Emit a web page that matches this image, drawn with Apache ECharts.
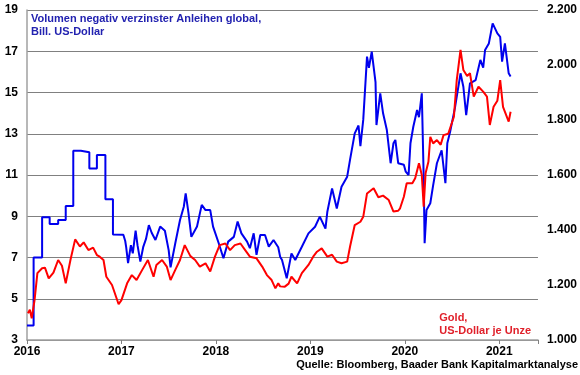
<!DOCTYPE html>
<html>
<head>
<meta charset="utf-8">
<script src="https://cdn.jsdelivr.net/npm/echarts@6/dist/echarts.min.js"></script>
<style>
	html, body { margin: 0; padding: 0; background: #fff; }
	#chart { width: 580px; height: 375px; }
</style>
</head>
<body>
<div id="chart"></div>
<script>
/*
 * Negativ verzinste Anleihen vs. Gold
 */
var yearTicks = [2016, 2017, 2018, 2019, 2020, 2021];

// Volumen negativ verzinster Anleihen, Bill. US-Dollar  [Jahr, Wert]
var bondVolume = [
	[2016.00, 3.7], [2016.07, 3.7], [2016.07, 7.0], [2016.16, 7.0], [2016.16, 8.95], [2016.24, 8.95],
	[2016.24, 8.62], [2016.33, 8.62], [2016.33, 8.82], [2016.41, 8.82], [2016.41, 9.5], [2016.49, 9.5],
	[2016.49, 12.18], [2016.57, 12.18], [2016.57, 12.1], [2016.66, 12.1], [2016.66, 11.32], [2016.74, 11.32],
	[2016.74, 11.97], [2016.83, 11.97], [2016.83, 9.82], [2016.91, 9.82], [2016.91, 8.12], [2017.02, 8.1],
	[2017.04, 7.8], [2017.05, 7.5], [2017.07, 6.73], [2017.10, 7.6], [2017.12, 7.2], [2017.15, 8.3],
	[2017.17, 7.6], [2017.20, 6.8], [2017.23, 7.5], [2017.26, 7.9], [2017.29, 8.57], [2017.32, 8.2],
	[2017.36, 7.85], [2017.41, 8.5], [2017.46, 8.3], [2017.50, 7.36], [2017.52, 6.52], [2017.57, 7.69],
	[2017.62, 8.82], [2017.66, 9.46], [2017.68, 10.11], [2017.71, 9.15], [2017.74, 8.0], [2017.80, 8.5],
	[2017.85, 9.55], [2017.89, 9.3], [2017.94, 9.3], [2017.97, 8.5], [2018.03, 7.69], [2018.08, 6.96],
	[2018.13, 7.77], [2018.19, 8.0], [2018.23, 8.74], [2018.27, 8.17], [2018.33, 7.77], [2018.36, 7.45],
	[2018.40, 8.17], [2018.43, 7.13], [2018.47, 8.09], [2018.52, 8.09], [2018.56, 7.53], [2018.61, 7.85],
	[2018.66, 7.5], [2018.68, 7.04], [2018.70, 6.88], [2018.75, 5.99], [2018.80, 7.2], [2018.84, 6.88],
	[2018.91, 7.52], [2018.98, 8.17], [2019.05, 8.49], [2019.10, 8.98], [2019.16, 8.4], [2019.18, 9.22],
	[2019.23, 10.35], [2019.28, 9.38], [2019.33, 10.43], [2019.39, 10.92], [2019.42, 11.73], [2019.47, 13.02],
	[2019.51, 13.4], [2019.53, 12.4], [2019.56, 13.67], [2019.60, 16.74], [2019.62, 16.2], [2019.65, 16.98],
	[2019.69, 15.5], [2019.70, 13.42], [2019.74, 14.96], [2019.77, 13.99], [2019.81, 13.18], [2019.85, 11.57],
	[2019.88, 12.54], [2019.90, 12.7], [2019.93, 11.57], [2019.99, 11.5], [2020.01, 11.16], [2020.04, 11.0],
	[2020.06, 12.54], [2020.09, 13.34], [2020.13, 14.15], [2020.15, 13.8], [2020.18, 14.96], [2020.20, 10.92],
	[2020.21, 7.69], [2020.23, 9.3], [2020.27, 9.63], [2020.30, 10.5], [2020.34, 11.57], [2020.39, 12.2],
	[2020.43, 10.6], [2020.45, 12.54], [2020.48, 13.1], [2020.53, 14.23], [2020.59, 15.93], [2020.62, 15.28],
	[2020.65, 13.9], [2020.69, 15.44], [2020.75, 15.6], [2020.80, 16.58], [2020.83, 16.2], [2020.85, 17.06],
	[2020.89, 17.38], [2020.93, 18.35], [2020.98, 17.87], [2021.01, 17.7], [2021.03, 16.5], [2021.06, 17.38],
	[2021.10, 15.93], [2021.12, 15.77]
];

// Gold, US-Dollar je Unze  [Jahr, Wert]
var goldPrice = [
	[2016.01, 1097], [2016.03, 1110], [2016.05, 1079], [2016.08, 1145], [2016.11, 1243], [2016.16, 1261],
	[2016.19, 1263], [2016.23, 1224], [2016.28, 1245], [2016.33, 1291], [2016.37, 1270], [2016.41, 1206],
	[2016.46, 1291], [2016.51, 1366], [2016.56, 1340], [2016.60, 1355], [2016.65, 1327], [2016.70, 1336],
	[2016.74, 1309], [2016.77, 1303], [2016.81, 1291], [2016.84, 1230], [2016.90, 1200], [2016.97, 1130],
	[2017.00, 1145], [2017.06, 1206], [2017.11, 1236], [2017.16, 1218], [2017.22, 1255], [2017.28, 1291],
	[2017.30, 1285], [2017.34, 1230], [2017.37, 1273], [2017.43, 1291], [2017.48, 1267], [2017.52, 1218],
	[2017.57, 1255], [2017.62, 1291], [2017.67, 1345], [2017.73, 1305], [2017.78, 1291], [2017.83, 1267],
	[2017.89, 1279], [2017.94, 1249], [2017.99, 1303], [2018.04, 1345], [2018.10, 1351], [2018.15, 1327],
	[2018.20, 1345], [2018.26, 1351], [2018.31, 1327], [2018.36, 1303], [2018.43, 1297], [2018.49, 1267],
	[2018.54, 1236], [2018.59, 1218], [2018.63, 1188], [2018.66, 1206], [2018.68, 1195], [2018.73, 1194],
	[2018.77, 1205], [2018.80, 1230], [2018.86, 1206], [2018.91, 1243], [2018.98, 1273], [2019.03, 1303],
	[2019.07, 1321], [2019.12, 1333], [2019.18, 1303], [2019.23, 1310], [2019.28, 1285], [2019.33, 1279],
	[2019.39, 1285], [2019.42, 1339], [2019.47, 1418], [2019.53, 1430], [2019.56, 1448], [2019.60, 1533],
	[2019.67, 1552], [2019.72, 1519], [2019.77, 1525], [2019.83, 1509], [2019.88, 1467], [2019.93, 1470],
	[2019.95, 1479], [2019.99, 1521], [2020.02, 1570], [2020.08, 1570], [2020.11, 1588], [2020.15, 1643],
	[2020.18, 1600], [2020.20, 1485], [2020.22, 1606], [2020.25, 1648], [2020.27, 1739], [2020.30, 1715],
	[2020.34, 1727], [2020.38, 1710], [2020.41, 1745], [2020.46, 1750], [2020.52, 1812], [2020.55, 1945],
	[2020.59, 2055], [2020.62, 1982], [2020.66, 1960], [2020.69, 1970], [2020.73, 1885], [2020.78, 1921],
	[2020.83, 1903], [2020.87, 1885], [2020.90, 1782], [2020.94, 1848], [2020.98, 1870], [2021.01, 1945],
	[2021.04, 1848], [2021.06, 1855], [2021.10, 1794], [2021.12, 1830]
];

var fontName = 'Liberation Sans, Arial, sans-serif';

var ech = echarts.init(document.getElementById('chart'), null, { renderer: 'canvas' });
var option = {
	animation: false,
	grid: {
		left: 27,
		right: 42,
		top: 10,
		bottom: 35
	},
	xAxis: {
		type: 'value',
		min: 2016,
		max: 2021.41,
		interval: 1,
		axisLine: { lineStyle: { color: '#a0a0a0', width: 1.5 } },
		axisTick: { show: true, length: 4, lineStyle: { color: '#808080' } },
		splitLine: { show: false },
		axisLabel: {
			color: '#000',
			fontWeight: 'bold',
			fontSize: 12,
			fontFamily: fontName,
			margin: 6,
			formatter: function(v) {
				return yearTicks.indexOf(v) >= 0 ? String(v) : '';
			}
		}
	},
	yAxis: [{
		type: 'value',
		min: 3,
		max: 19,
		interval: 2,
		axisLine: { show: true, lineStyle: { color: '#a0a0a0', width: 1.5 } },
		axisTick: { show: false },
		splitLine: { show: true, lineStyle: { color: '#808080', width: 1 } },
		axisLabel: {
			color: '#000',
			fontWeight: 'bold',
			fontSize: 12,
			fontFamily: fontName,
			margin: 9
		}
	}, {
		type: 'value',
		min: 1000,
		max: 2200,
		interval: 200,
		position: 'right',
		axisLine: { show: false },
		axisTick: { show: false },
		splitLine: { show: false },
		axisLabel: {
			color: '#000',
			fontWeight: 'bold',
			fontSize: 12,
			fontFamily: fontName,
			margin: 9,
			formatter: function(v) {
				var s = String(v);
				return s.slice(0, s.length - 3) + '.' + s.slice(s.length - 3);
			}
		}
	}],
	series: [{
		name: 'Volumen',
		type: 'line',
		yAxisIndex: 0,
		data: bondVolume,
		showSymbol: false,
		lineStyle: { color: '#0000ee', width: 2 },
		z: 2
	}, {
		name: 'Gold',
		type: 'line',
		yAxisIndex: 1,
		data: goldPrice,
		showSymbol: false,
		lineStyle: { color: '#ff0000', width: 2 },
		z: 3
	}],
	graphic: [{
		type: 'text',
		left: 31,
		top: 12,
		style: {
			text: 'Volumen negativ verzinster Anleihen global,\nBill. US-Dollar',
			fill: '#2222b0',
			font: 'bold 11px ' + fontName,
			lineHeight: 13
		}
	}, {
		type: 'text',
		right: 49,
		top: 311,
		style: {
			text: 'Gold,\nUS-Dollar je Unze',
			fill: '#e0202a',
			font: 'bold 11px ' + fontName,
			lineHeight: 13,
			align: 'right'
		}
	}, {
		type: 'text',
		right: 2,
		top: 359,
		style: {
			text: 'Quelle: Bloomberg, Baader Bank Kapitalmarktanalyse',
			fill: '#000',
			font: 'bold 11px ' + fontName
		}
	}]
};
ech.setOption(option);
</script>
</body>
</html>
